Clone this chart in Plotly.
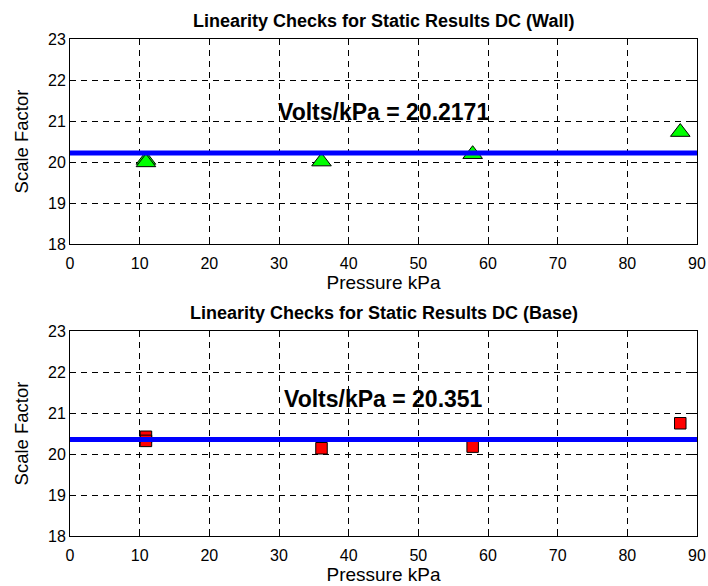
import plotly.graph_objects as go

# Measured scale factors against applied pressure
wall_pressure = [10.9, 10.9, 36.1, 57.8, 87.6]
wall_scale = [20.05, 19.99, 20.01, 20.19, 20.73]
wall_volts_per_kpa = 20.2171

base_pressure = [10.9, 10.9, 36.1, 57.8, 87.6]
base_scale = [20.42, 20.32, 20.14, 20.18, 20.75]
base_volts_per_kpa = 20.351

x_ticks = [0, 10, 20, 30, 40, 50, 60, 70, 80, 90]
y_ticks = [18, 19, 20, 21, 22, 23]

titles = ["Linearity Checks for Static Results DC (Wall)",
          "Linearity Checks for Static Results DC (Base)"]

FONT = "Liberation Sans, Arial, Helvetica, sans-serif"
W, H = 708, 586

fig = go.Figure()

panels = [
    dict(xa="x", ya="y", px=wall_pressure, py=wall_scale, v=wall_volts_per_kpa,
         symbol="triangle-up", color="#00ff00", size=17, top=39, bottom=244),
    dict(xa="x2", ya="y2", px=base_pressure, py=base_scale, v=base_volts_per_kpa,
         symbol="square", color="#ff0000", size=11.5, top=331, bottom=536),
]

left, right = 70, 697

for i, p in enumerate(panels):
    # individual measurements
    fig.add_trace(go.Scatter(
        x=p["px"], y=p["py"], mode="markers",
        marker=dict(symbol=p["symbol"], color=p["color"], size=p["size"],
                    line=dict(color="black", width=1)),
        xaxis=p["xa"], yaxis=p["ya"], showlegend=False))
    # fitted scale factor line, drawn over the markers
    fig.add_trace(go.Scatter(
        x=[x_ticks[0], x_ticks[-1]], y=[p["v"], p["v"]], mode="lines",
        line=dict(color="#0000ff", width=5), xaxis=p["xa"], yaxis=p["ya"],
        showlegend=False, hoverinfo="skip", cliponaxis=False))
    fig.add_annotation(
        x=(x_ticks[0] + x_ticks[-1]) / 2, y=p["v"] + 1, xref=p["xa"], yref=p["ya"],
        text=f"<b>Volts/kPa = {p['v']:g}</b>", showarrow=False,
        font=dict(family=FONT, size=23, color="black"))
    # panel title
    fig.add_annotation(
        x=(left + right) / 2 / W, y=1 - (p["top"] - 18) / H, xref="paper", yref="paper",
        text=f"<b>{titles[i]}</b>", showarrow=False, yanchor="middle",
        font=dict(family=FONT, size=18, color="black"))

    axis_common = dict(showline=True, linecolor="black", linewidth=1, mirror="ticks",
                       ticks="inside", ticklen=5, tickcolor="black", automargin=False,
                       showgrid=True, gridcolor="black", griddash="6px,5px", gridwidth=1,
                       zeroline=False, tickfont=dict(family=FONT, size=16, color="black"))
    xdom = [left / W, right / W]
    ydom = [1 - p["bottom"] / H, 1 - p["top"] / H]
    suffix = "" if i == 0 else "2"
    fig.update_layout({
        f"xaxis{suffix}": dict(axis_common, domain=xdom, range=[x_ticks[0], x_ticks[-1]],
                               tickvals=x_ticks, anchor=f"y{suffix}", ticklabelstandoff=5,
                               title=dict(text="Pressure kPa", standoff=3,
                                          font=dict(family=FONT, size=19, color="black"))),
        f"yaxis{suffix}": dict(axis_common, domain=ydom, range=[y_ticks[0], y_ticks[-1]],
                               tickvals=y_ticks, anchor=f"x{suffix}",
                               title=dict(text="Scale Factor", standoff=14,
                                          font=dict(family=FONT, size=18.5, color="black"))),
    })

fig.update_layout(width=W, height=H, margin=dict(l=0, r=0, t=0, b=0),
                  plot_bgcolor="white", paper_bgcolor="white")

fig.write_html("out.html")
